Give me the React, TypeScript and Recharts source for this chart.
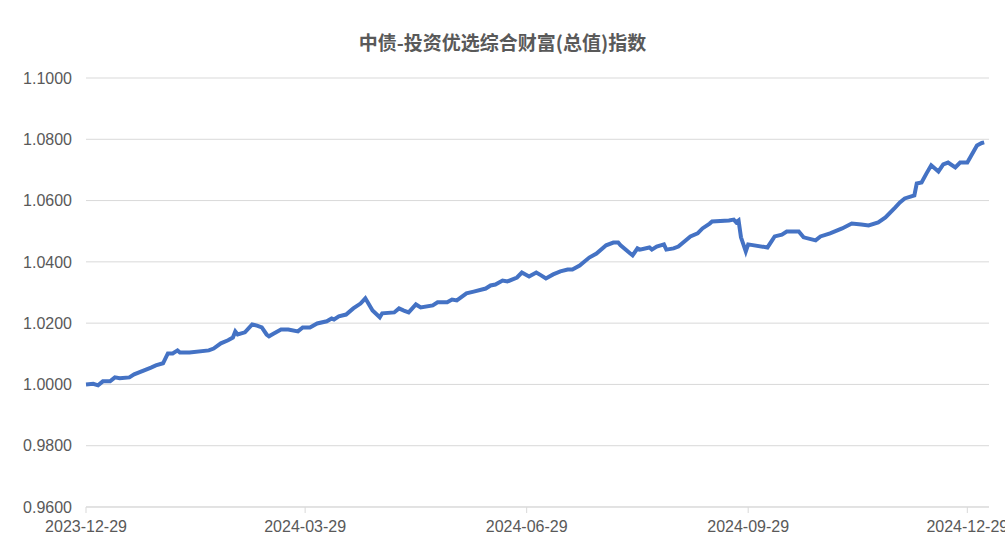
import { LineChart, Line, XAxis, YAxis, CartesianGrid } from 'recharts';

const title = '中债-投资优选综合财富(总值)指数';

const dates = [
  '2023-12-29', '2024-01-01', '2024-01-03', '2024-01-05', '2024-01-08', '2024-01-10', '2024-01-12', '2024-01-16',
  '2024-01-18', '2024-01-25', '2024-01-27', '2024-01-30', '2024-02-01', '2024-02-03', '2024-02-05', '2024-02-06',
  '2024-02-10', '2024-02-18', '2024-02-20', '2024-02-23', '2024-02-26', '2024-02-28', '2024-02-29', '2024-03-01',
  '2024-03-04', '2024-03-07', '2024-03-09', '2024-03-11', '2024-03-13', '2024-03-14', '2024-03-16', '2024-03-19',
  '2024-03-22', '2024-03-26', '2024-03-28', '2024-03-31', '2024-04-03', '2024-04-07', '2024-04-09', '2024-04-10',
  '2024-04-12', '2024-04-15', '2024-04-18', '2024-04-21', '2024-04-23', '2024-04-26', '2024-04-29', '2024-04-30',
  '2024-05-05', '2024-05-07', '2024-05-09', '2024-05-11', '2024-05-14', '2024-05-16', '2024-05-21', '2024-05-23',
  '2024-05-27', '2024-05-29', '2024-05-31', '2024-06-04', '2024-06-07', '2024-06-12', '2024-06-14', '2024-06-16',
  '2024-06-19', '2024-06-21', '2024-06-25', '2024-06-27', '2024-06-30', '2024-07-03', '2024-07-05', '2024-07-07',
  '2024-07-10', '2024-07-13', '2024-07-16', '2024-07-18', '2024-07-21', '2024-07-25', '2024-07-28', '2024-08-01',
  '2024-08-04', '2024-08-06', '2024-08-07', '2024-08-12', '2024-08-14', '2024-08-15', '2024-08-19', '2024-08-20',
  '2024-08-22', '2024-08-25', '2024-08-26', '2024-08-29', '2024-08-31', '2024-09-03', '2024-09-05', '2024-09-08',
  '2024-09-10', '2024-09-13', '2024-09-14', '2024-09-21', '2024-09-23', '2024-09-24', '2024-09-25', '2024-09-26',
  '2024-09-27', '2024-09-28', '2024-09-29', '2024-10-07', '2024-10-10', '2024-10-13', '2024-10-15', '2024-10-20',
  '2024-10-22', '2024-10-27', '2024-10-29', '2024-11-02', '2024-11-07', '2024-11-11', '2024-11-15', '2024-11-18',
  '2024-11-22', '2024-11-25', '2024-11-29', '2024-12-01', '2024-12-03', '2024-12-07', '2024-12-08', '2024-12-10',
  '2024-12-12', '2024-12-14', '2024-12-17', '2024-12-19', '2024-12-21', '2024-12-24', '2024-12-26', '2024-12-29',
  '2025-01-02', '2025-01-04', '2025-01-05',
];

const values = [
  1.0000, 1.0002, 0.9997, 1.0010, 1.0010, 1.0023, 1.0020, 1.0023,
  1.0033, 1.0055, 1.0062, 1.0069, 1.0101, 1.0101, 1.0111, 1.0104,
  1.0104, 1.0111, 1.0117, 1.0134, 1.0144, 1.0153, 1.0173, 1.0163,
  1.0170, 1.0196, 1.0192, 1.0186, 1.0163, 1.0157, 1.0166, 1.0179,
  1.0179, 1.0173, 1.0186, 1.0186, 1.0199, 1.0206, 1.0215, 1.0212,
  1.0222, 1.0228, 1.0248, 1.0264, 1.0281, 1.0241, 1.0219, 1.0232,
  1.0235, 1.0248, 1.0241, 1.0235, 1.0261, 1.0251, 1.0258, 1.0268,
  1.0268, 1.0277, 1.0274, 1.0297, 1.0303, 1.0313, 1.0323, 1.0326,
  1.0339, 1.0336, 1.0349, 1.0365, 1.0352, 1.0365, 1.0356, 1.0346,
  1.0359, 1.0369, 1.0375, 1.0375, 1.0388, 1.0414, 1.0427, 1.0454,
  1.0463, 1.0463, 1.0454, 1.0421, 1.0444, 1.0440, 1.0447, 1.0440,
  1.0450, 1.0457, 1.0440, 1.0444, 1.0450, 1.0470, 1.0483, 1.0493,
  1.0509, 1.0525, 1.0532, 1.0535, 1.0538, 1.0529, 1.0535, 1.0480,
  1.0457, 1.0434, 1.0457, 1.0447, 1.0483, 1.0489, 1.0499, 1.0499,
  1.0480, 1.0470, 1.0483, 1.0493, 1.0509, 1.0525, 1.0522, 1.0519,
  1.0529, 1.0545, 1.0577, 1.0594, 1.0607, 1.0617, 1.0656, 1.0659,
  1.0688, 1.0715, 1.0695, 1.0718, 1.0724, 1.0708, 1.0724, 1.0724,
  1.0780, 1.0788, 1.0790,
];

const xTicks = ['2023-12-29', '2024-03-29', '2024-06-29', '2024-09-29', '2024-12-29'];
const xEnd = '2025-01-07';
const yTicks = [0.96, 0.98, 1.0, 1.02, 1.04, 1.06, 1.08, 1.1];

const data = dates.map((d, i) => ({ t: Date.parse(d), value: values[i] }));

const fmtDate = (t: number) => new Date(t).toISOString().slice(0, 10);

const tickStyle = { fill: '#595959', fontSize: 16, fontFamily: '"Liberation Sans", Arial, sans-serif' };

export default function App() {
  return (
    <div style={{ position: 'absolute', left: 0, top: 0, width: 1005, height: 542, background: '#fff' }}>
      <div
        style={{
          position: 'absolute',
          top: 29,
          left: 0,
          width: 1005,
          textAlign: 'center',
          fontSize: 19,
          fontWeight: 700,
          color: '#595959',
          fontFamily: '"Noto Sans CJK SC", "Noto Sans", sans-serif',
          lineHeight: '26px',
        }}
      >
        {title}
      </div>
      <LineChart width={1005} height={542} data={data} margin={{ top: 78, right: 16, left: 0, bottom: 0 }}>
        <CartesianGrid stroke="#d9d9d9" vertical={false} />
        <XAxis
          dataKey="t"
          type="number"
          scale="linear"
          domain={[Date.parse(xTicks[0]), Date.parse(xEnd)]}
          ticks={xTicks.map((d) => Date.parse(d))}
          tickFormatter={fmtDate}
          interval={0}
          height={35}
          axisLine={{ stroke: '#d9d9d9' }}
          tickLine={{ stroke: '#d9d9d9' }}
          tickSize={6}
          tickMargin={8}
          tick={tickStyle}
        />
        <YAxis
          domain={[0.96, 1.1]}
          ticks={yTicks}
          tickFormatter={(v: number) => v.toFixed(4)}
          width={86}
          axisLine={false}
          tickLine={false}
          tickSize={0}
          tickMargin={14}
          tick={tickStyle}
        />
        <Line
          dataKey="value"
          type="linear"
          stroke="#4472C4"
          strokeWidth={4}
          dot={false}
          isAnimationActive={false}
        />
      </LineChart>
    </div>
  );
}
